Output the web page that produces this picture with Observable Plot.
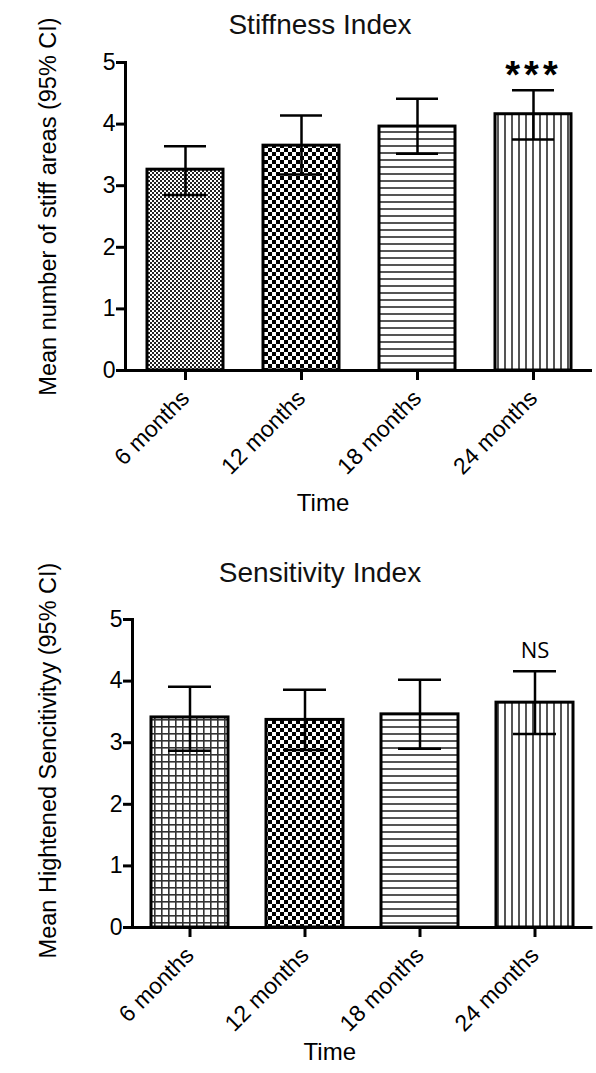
<!DOCTYPE html>
<html><head><meta charset="utf-8">
<script src="https://cdn.jsdelivr.net/npm/d3@7"></script>
<script src="https://cdn.jsdelivr.net/npm/@observablehq/plot@0.6"></script>
<style>
body{margin:0;background:#fff;}
#wrap{position:relative;width:596px;height:1073px;overflow:hidden;font-family:"Liberation Sans",Arial,sans-serif;background:#fff;}
.title{position:absolute;left:120px;width:400px;text-align:center;font-size:28px;line-height:28px;color:#111;}
.chart{position:absolute;left:0;}
</style></head><body>
<div id="wrap">
  <div class="title" style="top:11px">Stiffness Index</div>
  <div class="chart" id="c1" style="top:40px"></div>
  <div class="title" style="top:559px">Sensitivity Index</div>
  <div class="chart" id="c2" style="top:600px"></div>
</div>
<script>
// ---- data ----
const categories = ["6 months", "12 months", "18 months", "24 months"];
const yTicks = [0, 1, 2, 3, 4, 5];

const stiffMean = [3.26, 3.65, 3.96, 4.16];
const stiffLow  = [2.85, 3.18, 3.52, 3.75];
const stiffHigh = [3.64, 4.14, 4.41, 4.55];
const stiffSig  = ["", "", "", "***"];

const sensMean = [3.41, 3.37, 3.46, 3.65];
const sensLow  = [2.87, 2.88, 2.90, 3.14];
const sensHigh = [3.91, 3.86, 4.02, 4.16];
const sensSig  = ["", "", "", "NS"];

const stiffYLabel = "Mean number of stiff areas (95% CI)";
const sensYLabel = "Mean Hightened Sencitivityy (95% CI)";
const xLabel = "Time";

// ---- patterns (style) ----
function addPatterns(svg, p) {
  d3.select(svg).insert("defs", ":first-child").html(`
    <pattern id="${p}-fine" patternUnits="userSpaceOnUse" width="4" height="4">
      <rect width="4" height="4" fill="#fff"/>
      <rect x="0" y="0" width="2" height="2" fill="#222"/>
      <rect x="2" y="2" width="2" height="2" fill="#222"/>
    </pattern>
    <pattern id="${p}-check" patternUnits="userSpaceOnUse" width="8" height="8">
      <rect width="8" height="8" fill="#fff"/>
      <rect x="0" y="0" width="4" height="4" fill="#000"/>
      <rect x="4" y="4" width="4" height="4" fill="#000"/>
    </pattern>
    <pattern id="${p}-hlines" patternUnits="userSpaceOnUse" width="8" height="7">
      <rect width="8" height="7" fill="#fff"/>
      <rect x="0" y="0" width="8" height="2" fill="#555"/>
    </pattern>
    <pattern id="${p}-vlines" patternUnits="userSpaceOnUse" width="7" height="8">
      <rect width="7" height="8" fill="#fff"/>
      <rect x="0" y="0" width="2" height="8" fill="#555"/>
    </pattern>
    <pattern id="${p}-grid" patternUnits="userSpaceOnUse" width="7" height="7">
      <rect width="7" height="7" fill="#fff"/>
      <rect x="0" y="0" width="7" height="1.6" fill="#333"/>
      <rect x="0" y="0" width="1.6" height="7" fill="#333"/>
    </pattern>`);
}

function makeChart(o) {
  const rows = categories.map((c, i) => ({cat: c, mean: o.means[i], low: o.lows[i], high: o.highs[i], sig: o.sig[i], pat: o.patterns[i]}));
  const bars = rows.map(r => Plot.barY([r], {x: "cat", y: "mean", fill: `url(#${o.prefix}-${r.pat})`, stroke: "#000", strokeWidth: 3}));
  const svg = Plot.plot({
    width: 596,
    height: o.height,
    marginTop: o.mt, marginBottom: o.mb, marginLeft: o.ml, marginRight: o.mr,
    style: {fontFamily: "'Liberation Sans', Arial, sans-serif", overflow: "visible", background: "transparent", color: "#000"},
    x: {domain: categories, paddingInner: o.pi, paddingOuter: o.po, label: null},
    y: {domain: [0, 5], label: null},
    marks: [
      ...bars,
      Plot.ruleX(rows, {x: "cat", y1: "low", y2: "high", stroke: "#000", strokeWidth: 2.5}),
      Plot.tickY(rows, {x: "cat", y: "low", stroke: "#000", strokeWidth: 2.5, inset: 17}),
      Plot.tickY(rows, {x: "cat", y: "high", stroke: "#000", strokeWidth: 2.5, inset: 17}),
      Plot.ruleY([0], {stroke: "#000", strokeWidth: 3}),
      Plot.frame({anchor: "left", stroke: "#000", strokeWidth: 3}),
      Plot.axisY({ticks: yTicks, tickFormat: d => String(d), tickSize: 9, tickPadding: 1, strokeWidth: 3, fontSize: 23, label: null}),
      Plot.axisX({tickRotate: -45, tickSize: 10, tickPadding: 14, strokeWidth: 3, fontSize: 23, label: null}),
      Plot.text([o.yLabel], {frameAnchor: "left", textAnchor: "middle", lineAnchor: "middle", rotate: -90, dx: o.ylDx, dy: o.ylDy, fontSize: 23.5, fill: "#000"}),
      Plot.text([xLabel], {frameAnchor: "bottom", textAnchor: "middle", lineAnchor: "middle", dx: o.tDx, dy: o.tDy, fontSize: 24, fill: "#000"}),
      Plot.text(rows, {x: "cat", y: "high", text: "sig", dy: o.sigDy, fontSize: o.sigSize, fontWeight: o.sigWeight, fontFamily: o.sigFont, fill: "#000"})
    ]
  });
  addPatterns(svg, o.prefix);
  d3.select(svg).selectAll("text").filter(function() { return this.textContent === "***"; }).style("letter-spacing", "4px");
  document.getElementById(o.el).appendChild(svg);
}

makeChart({
  el: "c1", prefix: "a", means: stiffMean, lows: stiffLow, highs: stiffHigh, sig: stiffSig,
  patterns: ["fine", "check", "hlines", "vlines"], yLabel: stiffYLabel,
  height: 490, mt: 22, mb: 160, ml: 125, mr: 4, pi: 0.345, po: 0.185,
  ylDx: -77, ylDy: -10, tDx: -36, tDy: 133,
  sigDy: -14, sigSize: 38, sigWeight: "bold", sigFont: "'Liberation Sans', Arial, sans-serif"
});
makeChart({
  el: "c2", prefix: "b", means: sensMean, lows: sensLow, highs: sensHigh, sig: sensSig,
  patterns: ["grid", "check", "hlines", "vlines"], yLabel: sensYLabel,
  height: 473, mt: 19, mb: 146, ml: 132, mr: 3.5, pi: 0.333, po: 0.16,
  ylDx: -84, ylDy: -13, tDx: -33, tDy: 125,
  sigDy: -20, sigSize: 22, sigWeight: "normal", sigFont: "'Open Sans', 'Noto Sans', sans-serif"
});
</script>
</body></html>
